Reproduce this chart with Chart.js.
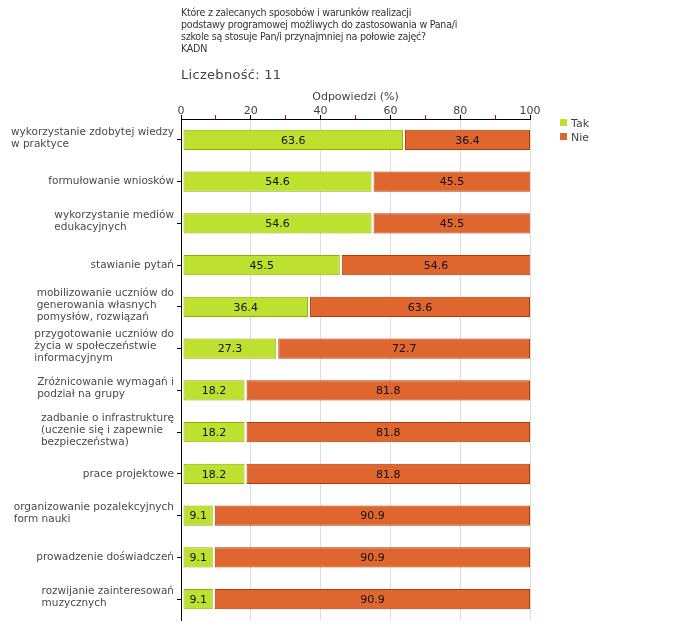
<!DOCTYPE html>
<html>
<head>
<meta charset="utf-8">
<script src="https://cdn.jsdelivr.net/npm/chart.js@4/dist/chart.umd.min.js"></script>
<style>
  body { margin: 0; background: #fff; }
  #wrap { position: relative; width: 680px; height: 640px; }
  #title { position: absolute; left: 181px; top: 6px; font: 10.6px "DejaVu Sans Condensed", "DejaVu Sans", sans-serif; color: #333; line-height: 12px; letter-spacing: -0.25px; }
  #count { position: absolute; left: 181px; top: 67px; font: 13px "DejaVu Sans", sans-serif; color: #444; letter-spacing: 0.3px; }
  #legend { position: absolute; left: 560px; top: 117px; font: 11px "DejaVu Sans", sans-serif; color: #444; line-height: 14px; }
  #legend span.sw { display: inline-block; width: 7px; height: 7px; margin-right: 4px; vertical-align: 1px; }
</style>
</head>
<body>
<div id="wrap">
  <canvas id="chart" width="680" height="640"></canvas>
  <div id="title">Które z zalecanych sposobów i warunków realizacji<br>podstawy programowej możliwych do zastosowania w Pana/i<br>szkole są stosuje Pan/i przynajmniej na połowie zajęć?<br>KADN</div>
  <div id="count">Liczebność: 11</div>
  <div id="legend"></div>
</div>
<script>
// chart data
const categories = [
  ['wykorzystanie zdobytej wiedzy', 'w praktyce'],
  ['formułowanie wniosków'],
  ['wykorzystanie mediów', 'edukacyjnych'],
  ['stawianie pytań'],
  ['mobilizowanie uczniów do', 'generowania własnych', 'pomysłów, rozwiązań'],
  ['przygotowanie uczniów do', 'życia w społeczeństwie', 'informacyjnym'],
  ['Zróżnicowanie wymagań i', 'podział na grupy'],
  ['zadbanie o infrastrukturę', '(uczenie się i zapewnie', 'bezpieczeństwa)'],
  ['prace projektowe'],
  ['organizowanie pozalekcyjnych', 'form nauki'],
  ['prowadzenie doświadczeń'],
  ['rozwijanie zainteresowań', 'muzycznych']
];
const takValues = [63.6, 54.6, 54.6, 45.5, 36.4, 27.3, 18.2, 18.2, 18.2, 9.1, 9.1, 9.1];
const nieValues = [36.4, 45.5, 45.5, 54.6, 63.6, 72.7, 81.8, 81.8, 81.8, 90.9, 90.9, 90.9];
const seriesNames = ['Tak', 'Nie'];
const fillColors = ['#bee130', '#e06630'];
const lineColors = ['#8db000', '#b33a00'];

const FONT = '"DejaVu Sans", sans-serif';

// legend
document.getElementById('legend').innerHTML = seriesNames.map((n, i) =>
  '<div><span class="sw" style="background:' + fillColors[i] + '"></span>' + n + '</div>').join('');

// small gap at the start of each bar
const barGap = {
  id: 'barGap',
  afterDatasetsUpdate(chart) {
    chart.data.datasets.forEach((ds, i) => {
      chart.getDatasetMeta(i).data.forEach(bar => { bar.base += 2; });
    });
  }
};

// category labels: block right next to axis, lines left aligned
const catLabels = {
  id: 'catLabels',
  afterDraw(chart) {
    const ctx = chart.ctx, y = chart.scales.y;
    ctx.save();
    ctx.font = '10.5px ' + FONT;
    ctx.fillStyle = '#4a4a4a';
    ctx.textBaseline = 'middle';
    ctx.textAlign = 'left';
    const lh = 12;
    categories.forEach((lines, i) => {
      const w = Math.max(...lines.map(l => ctx.measureText(l).width));
      const x = y.right - 7 - w;
      const cy = y.getPixelForValue(i) + (lines.length > 1 ? -2 : 0);
      lines.forEach((l, k) => {
        ctx.fillText(l, x, cy + (k - (lines.length - 1) / 2) * lh);
      });
    });
    ctx.restore();
  }
};

// value labels inside bars
const valueLabels = {
  id: 'valueLabels',
  afterDatasetsDraw(chart) {
    const ctx = chart.ctx;
    ctx.save();
    ctx.font = '11px ' + FONT;
    ctx.fillStyle = '#111';
    ctx.textAlign = 'center';
    ctx.textBaseline = 'middle';
    chart.data.datasets.forEach((ds, i) => {
      chart.getDatasetMeta(i).data.forEach((bar, j) => {
        const cx = (bar.x + bar.base) / 2;
        ctx.fillText(ds.data[j].toFixed(1), cx, bar.y + 1);
      });
    });
    ctx.restore();
  }
};

new Chart(document.getElementById('chart').getContext('2d'), {
  type: 'bar',
  data: {
    labels: categories,
    datasets: [takValues, nieValues].map((vals, i) => ({
      label: seriesNames[i],
      data: vals,
      backgroundColor: fillColors[i],
      borderColor: lineColors[i],
      borderWidth: 1,
      borderSkipped: false,
      barPercentage: 0.96,
      categoryPercentage: 0.5
    }))
  },
  options: {
    indexAxis: 'y',
    responsive: false,
    animation: false,
    layout: { padding: { top: 88, right: 150, bottom: 20, left: 0 } },
    plugins: { legend: { display: false }, tooltip: { enabled: false } },
    scales: {
      x: {
        position: 'top',
        stacked: true,
        min: 0, max: 100,
        afterFit: s => { s.height = 31; },
        ticks: {
          stepSize: 10, autoSkip: false, padding: -3,
          color: '#444', font: { family: FONT, size: 11 },
          callback: v => (v % 20 === 0 ? v : '')
        },
        grid: {
          tickLength: 4,
          color: c => (c.tick && c.tick.value % 20 === 0 && c.tick.value > 0 ? '#dddddd' : 'rgba(0,0,0,0)'),
          tickColor: c => (c.tick && c.tick.value % 20 === 0 ? '#000' : '#cc0000'),
          borderDash: [4, 6]
        },
        border: { color: '#000', width: 1 },
        title: { display: true, text: 'Odpowiedzi (%)', color: '#444', font: { family: FONT, size: 11 }, padding: { top: 3, bottom: 0 } }
      },
      y: {
        stacked: true,
        afterFit: s => { s.width = 181; },
        ticks: { callback: () => '' },
        grid: { drawOnChartArea: false, offset: false, tickLength: 4, tickColor: '#000' },
        border: { color: '#000', width: 1 }
      }
    }
  },
  plugins: [barGap, catLabels, valueLabels]
});
</script>
</body>
</html>
